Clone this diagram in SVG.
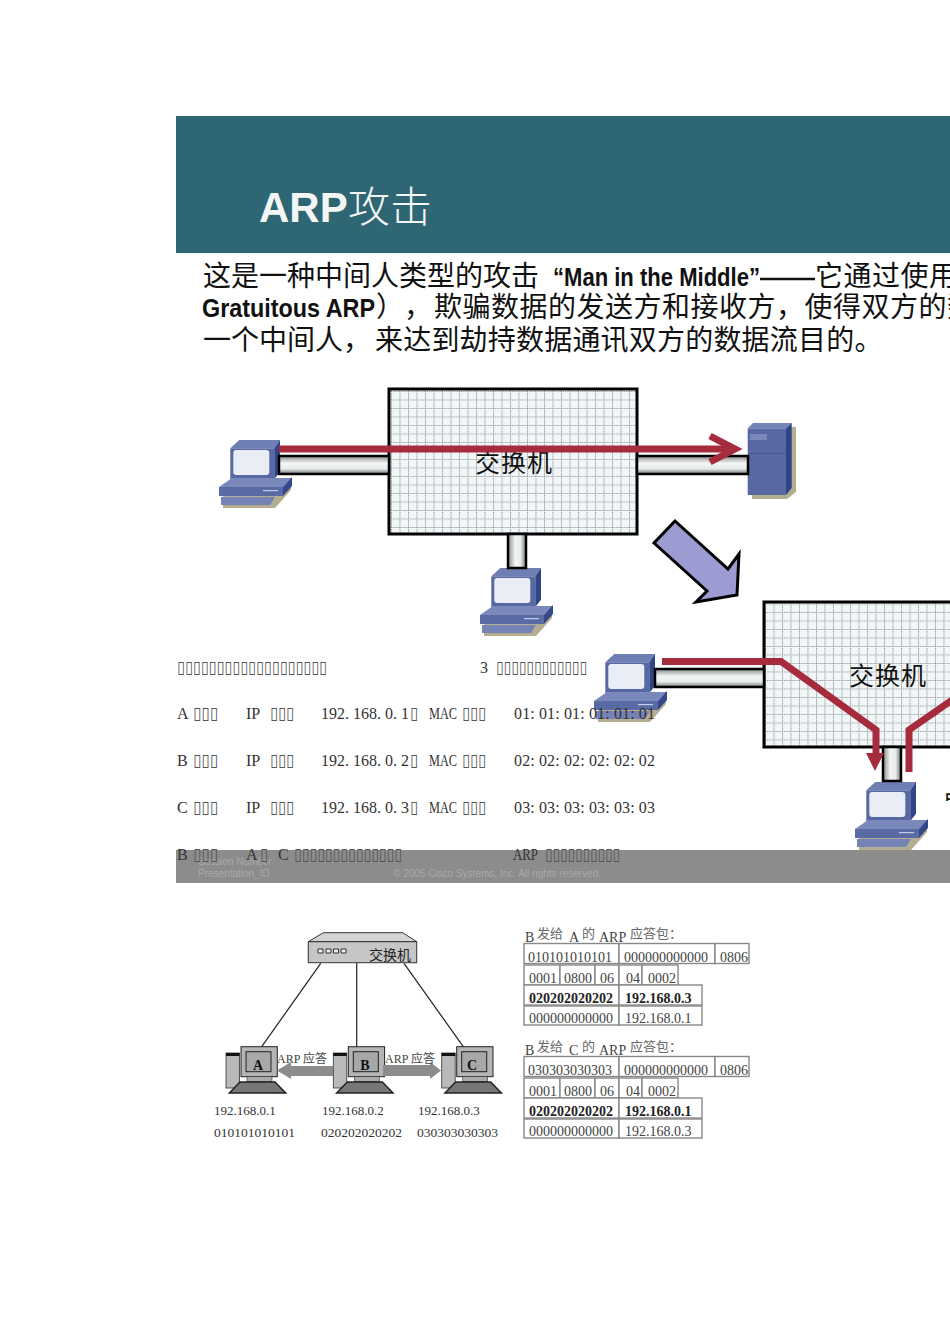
<svg xmlns="http://www.w3.org/2000/svg" width="950" height="1344" viewBox="0 0 950 1344">
<style>
.cjk{font-family:"Noto Sans CJK SC",sans-serif}
.body{font-family:"Noto Sans CJK SC",sans-serif;font-size:28px;fill:#111}
.bold{font-family:"Liberation Sans Narrow","Liberation Sans",sans-serif;font-weight:bold;font-size:26px;fill:#111}
.sw{fill:url(#grid);stroke:#000;stroke-width:3}
.swl{font-family:"Noto Sans CJK SC",sans-serif;font-size:25px;fill:#111}
.barh{fill:url(#gh);stroke:#000;stroke-width:2.5}
.barv{fill:url(#gv);stroke:#000;stroke-width:2.5}
.red{fill:none;stroke:#a62b3d;stroke-width:7}
.dt{font-family:"Liberation Serif",serif;font-size:16px;fill:#333}
.tf{font-family:"DejaVu Sans",sans-serif;font-size:17px;fill:#555;opacity:.99}
.ft{font-family:"Liberation Sans",sans-serif;font-size:10px;fill:#a9a9a9}
.wire{stroke:#222;stroke-width:1.2;fill:none}
.ga{fill:#8c8c8c}
.cell{fill:#fff;stroke:#888;stroke-width:1.4}
.tt{font-family:"Liberation Serif",serif;font-size:14px;fill:#444}
.tb{font-family:"Liberation Serif",serif;font-size:14px;font-weight:bold;fill:#222}
.lb{font-family:"Liberation Serif",serif;font-size:14px;fill:#444}
.lc{font-family:"Noto Sans CJK SC",sans-serif;font-size:13px;fill:#666}
.ip{font-family:"Liberation Serif",serif;font-size:13px;fill:#333}
.mac{font-family:"Liberation Serif",serif;font-size:13.5px;fill:#333}
.let{font-family:"Liberation Serif",serif;font-size:14px;font-weight:bold;fill:#111;text-anchor:middle}
.sm{font-size:12px}
</style>
<defs>
<pattern id="grid" width="8.5" height="8.5" patternUnits="userSpaceOnUse">
<rect width="8.5" height="8.5" fill="#f1f7f8"/>
<path d="M0 .5H8.500M.5 0V8.500" stroke="#888" stroke-width="1" stroke-dasharray="1 1" fill="none"/>
</pattern>
<linearGradient id="gh" x1="0" y1="0" x2="0" y2="1"><stop offset="0" stop-color="#888"/><stop offset=".4" stop-color="#f4f6f6"/><stop offset=".7" stop-color="#e8ecec"/><stop offset="1" stop-color="#777"/></linearGradient>
<linearGradient id="gv" x1="0" y1="0" x2="1" y2="0"><stop offset="0" stop-color="#888"/><stop offset=".4" stop-color="#f4f6f6"/><stop offset=".7" stop-color="#e8ecec"/><stop offset="1" stop-color="#777"/></linearGradient>
<g id="pc">
<path d="M4 68H56L72 50V42L60 56H4Z" fill="#b5ad90"/>
<path d="M11.300 8.300L20.300 0H61L55.300 8.300Z" fill="#6f7fb4"/>
<rect x="11.300" y="8.300" width="44" height="31" fill="#5768a3"/>
<path d="M55.300 8.300L61 0V31.700L55.300 39Z" fill="#2f4585"/>
<rect x="14.300" y="10" width="36" height="25" rx="3" fill="#e9edf5"/>
<path d="M0 47L13 38H73L64 47Z" fill="#7b88bb"/>
<rect x="0" y="47" width="64" height="9" fill="#5a6aa5"/>
<path d="M64 47L73 37V46L64 56Z" fill="#34488a"/>
<rect x="44" y="50" width="15" height="1.200" fill="#c5cde6"/>
<path d="M2 57H56L51 65H2Z" fill="#7482b6"/>
</g>
<g id="dpc">
<rect x="226" y="1053" width="13.500" height="35" fill="#b9b9b9" stroke="#333" stroke-width=".8"/>
<rect x="226" y="1053" width="13.500" height="3" fill="#111"/>
<rect x="241" y="1046.700" width="36.300" height="30" fill="#b5b5b5" stroke="#222" stroke-width="1"/>
<rect x="246" y="1051.700" width="25" height="20" fill="#a8a8a8" stroke="#222" stroke-width="1"/>
<rect x="247" y="1076.700" width="25" height="5" fill="#aaa" stroke="#333" stroke-width=".6"/>
<path d="M229.300 1093L240 1082H275L285.700 1093Z" fill="#777" stroke="#222" stroke-width="1.500"/>
</g>
</defs>
<rect width="950" height="1344" fill="#fff"/>

<g id="banner">
<rect x="176" y="116" width="774" height="137" fill="#2f6674"/>
<text x="259" y="222" font-family="Liberation Sans,sans-serif" font-weight="bold" font-size="42" fill="#f4f6f6">ARP</text>
<text x="348" y="222" class="cjk" font-size="42" font-weight="300" fill="#f4f6f6">攻击</text>
</g>

<g id="intro">
<text x="203" y="286" class="body">这是一种中间人类型的攻击</text>
<text x="553" y="286" class="bold" textLength="207" lengthAdjust="spacingAndGlyphs">“Man in the Middle”</text>
<path d="M760 279H815" stroke="#111" stroke-width="2.500"/>
<text x="815" y="286" class="body" letter-spacing=".5">它通过使用</text>
<text x="202" y="317" class="bold" textLength="173" lengthAdjust="spacingAndGlyphs">Gratuitous ARP</text>
<text x="376" y="317" class="body">）</text>
<text x="404" y="317" class="body">，</text>
<text x="434" y="317" class="body" letter-spacing=".5">欺骗数据的发送方和接收方，使得双方的数</text>
<text x="203" y="350" class="body">一个中间人，</text>
<text x="375" y="350" class="body" letter-spacing=".2">来达到劫持数据通讯双方的数据流目的。</text>
</g>

<g id="switch1">
<rect x="389" y="389" width="248" height="145" class="sw"/>
<text x="475" y="472" class="swl" textLength="77">交换机</text>
</g>
<g id="pc1"><use href="#pc" x="219" y="440"/></g>
<g id="server">
<path d="M752 499H787L796 492V427H790V490H752Z" fill="#b5ad90"/>
<path d="M747.700 428.300L753 423H791.700L786 428.300Z" fill="#7484b8"/>
<rect x="747.700" y="428.300" width="38.300" height="66.700" fill="#5768a3"/>
<path d="M786 428.300L791.700 423V488L786 495Z" fill="#2f4585"/>
<rect x="750" y="434" width="17" height="6" fill="#7b88bb"/>
<path d="M748 453.500H786" stroke="#47588f" stroke-width="1"/>
</g>
<g id="pc2"><use href="#pc" x="480" y="568"/></g>

<g id="connectors">
<rect x="279" y="456" width="110" height="18" class="barh"/>
<rect x="637" y="456" width="111" height="18" class="barh"/>
<rect x="508" y="534" width="18" height="34" class="barv"/>
<path d="M279 449H735" class="red"/>
<path d="M710 436L735 449L710 462" class="red"/>
</g>

<g id="big-arrow">
<path d="M675 521L654 543L707 591L696 602L737 595L739 554L728 569Z" fill="#9c9cd2" stroke="#000" stroke-width="3"/>
</g>

<g id="pc3"><use href="#pc" x="594" y="654"/></g>
<g id="switch2">
<rect x="764" y="602" width="200" height="145" class="sw"/>
<text x="849" y="685" class="swl" textLength="77">交换机</text>
</g>
<g id="pc4"><use href="#pc" x="855" y="782"/></g>
<g id="connectors2">
<rect x="655" y="669" width="109" height="18" class="barh"/>
<rect x="883" y="747" width="18" height="34" class="barv"/>
<path d="M662 661.500H781L876 730V756" class="red"/>
<path d="M866 753H884L875 771Z" fill="#a62b3d"/>
<path d="M955 698L909 730V772" class="red"/>
</g>
<text id="cut-label" x="945" y="803" class="cjk" font-size="14" font-weight="bold" fill="#111">中</text>

<g id="footer">
<rect x="176" y="850" width="774" height="33" fill="#8c8c8c"/>
<text x="198" y="865" class="ft">Session Number</text>
<text x="198" y="877" class="ft">Presentation_ID</text>
<text x="393" y="877" class="ft">© 2005 Cisco Systems, Inc. All rights reserved.</text>
</g>

<g id="data-text">
<text x="177" y="673" class="tf" textLength="150" lengthAdjust="spacingAndGlyphs">▯▯▯▯▯▯▯▯▯▯▯▯▯▯▯▯▯▯▯</text>
<text x="480" y="673" class="dt">3</text>
<text x="496" y="673" class="tf" textLength="91" lengthAdjust="spacingAndGlyphs">▯▯▯▯▯▯▯▯▯▯▯▯</text>

<text x="177" y="719" class="dt">A</text><text x="193" y="719" class="tf" textLength="25" lengthAdjust="spacingAndGlyphs">▯▯▯</text>
<text x="246" y="719" class="dt">IP</text><text x="270" y="719" class="tf" textLength="24" lengthAdjust="spacingAndGlyphs">▯▯▯</text>
<text x="321" y="719" class="dt">192. 168. 0. 1</text><text x="410" y="719" class="tf" textLength="8" lengthAdjust="spacingAndGlyphs">▯</text>
<text x="429" y="719" class="dt" textLength="28" lengthAdjust="spacingAndGlyphs">MAC</text><text x="462" y="719" class="tf" textLength="24" lengthAdjust="spacingAndGlyphs">▯▯▯</text>
<text x="514" y="719" class="dt" textLength="141">01: 01: 01: 01: 01: 01</text>

<text x="177" y="766" class="dt">B</text><text x="193" y="766" class="tf" textLength="25" lengthAdjust="spacingAndGlyphs">▯▯▯</text>
<text x="246" y="766" class="dt">IP</text><text x="270" y="766" class="tf" textLength="24" lengthAdjust="spacingAndGlyphs">▯▯▯</text>
<text x="321" y="766" class="dt">192. 168. 0. 2</text><text x="410" y="766" class="tf" textLength="8" lengthAdjust="spacingAndGlyphs">▯</text>
<text x="429" y="766" class="dt" textLength="28" lengthAdjust="spacingAndGlyphs">MAC</text><text x="462" y="766" class="tf" textLength="24" lengthAdjust="spacingAndGlyphs">▯▯▯</text>
<text x="514" y="766" class="dt" textLength="141">02: 02: 02: 02: 02: 02</text>

<text x="177" y="813" class="dt">C</text><text x="193" y="813" class="tf" textLength="25" lengthAdjust="spacingAndGlyphs">▯▯▯</text>
<text x="246" y="813" class="dt">IP</text><text x="270" y="813" class="tf" textLength="24" lengthAdjust="spacingAndGlyphs">▯▯▯</text>
<text x="321" y="813" class="dt">192. 168. 0. 3</text><text x="410" y="813" class="tf" textLength="8" lengthAdjust="spacingAndGlyphs">▯</text>
<text x="429" y="813" class="dt" textLength="28" lengthAdjust="spacingAndGlyphs">MAC</text><text x="462" y="813" class="tf" textLength="24" lengthAdjust="spacingAndGlyphs">▯▯▯</text>
<text x="514" y="813" class="dt" textLength="141">03: 03: 03: 03: 03: 03</text>

<text x="177" y="860" class="dt">B</text><text x="193" y="860" class="tf" textLength="25" lengthAdjust="spacingAndGlyphs">▯▯▯</text>
<text x="246" y="860" class="dt">A</text><text x="260" y="860" class="tf" textLength="8" lengthAdjust="spacingAndGlyphs">▯</text>
<text x="278" y="860" class="dt">C</text><text x="294" y="860" class="tf" textLength="108" lengthAdjust="spacingAndGlyphs">▯▯▯▯▯▯▯▯▯▯▯▯▯▯</text>
<text x="513" y="860" class="dt" textLength="25" lengthAdjust="spacingAndGlyphs">ARP</text><text x="545" y="860" class="tf" textLength="75" lengthAdjust="spacingAndGlyphs">▯▯▯▯▯▯▯▯▯▯</text>
</g>

<g id="wires">
<path d="M320.700 963.300L261.700 1046.700" class="wire"/>
<path d="M356.700 962.700V1046.700" class="wire"/>
<path d="M404 963.300L463.300 1046.700" class="wire"/>
</g>
<g id="hub">
<path d="M323.300 932.700H402.700L416.700 941.700H308.300Z" fill="#d4d4d4" stroke="#333" stroke-width="1"/>
<rect x="308.300" y="941.700" width="108.400" height="21" fill="#c6c6c6" stroke="#333" stroke-width="1"/>
<path d="M318 949h5v4h-5zM326 949h5v4h-5zM333.500 949h5v4h-5zM341 949h5v4h-5z" fill="#eee" stroke="#333" stroke-width="1"/>
<text x="369" y="960" class="cjk" font-size="14" fill="#222">交换机</text>
</g>
<g id="hostA"><use href="#dpc"/><text x="258" y="1070" class="let">A</text></g>
<g id="hostB"><use href="#dpc" x="107.300"/><text x="365" y="1070" class="let">B</text></g>
<g id="hostC"><use href="#dpc" x="215.700"/><text x="472" y="1070" class="let">C</text></g>
<g id="arp-arrows">
<path d="M277 1070.500L291 1062V1066H333V1076H291V1079Z" class="ga"/>
<path d="M441 1070.500L430 1062V1065H383V1076H430V1079Z" class="ga"/>
<text x="277" y="1063" class="lb sm">ARP <tspan class="cjk sm">应答</tspan></text>
<text x="385" y="1063" class="lb sm">ARP <tspan class="cjk sm">应答</tspan></text>
</g>
<g id="host-labels">
<text x="214" y="1115" class="ip">192.168.0.1</text>
<text x="322" y="1115" class="ip">192.168.0.2</text>
<text x="418" y="1115" class="ip">192.168.0.3</text>
<text x="214" y="1137" class="mac">010101010101</text>
<text x="321" y="1137" class="mac">020202020202</text>
<text x="417" y="1137" class="mac">030303030303</text>
</g>

<g id="packet-a">
<text x="525" y="942" class="lb">B</text><text x="537" y="938" class="lc">发给</text><text x="569" y="942" class="lb">A</text><text x="582" y="938" class="lc">的</text><text x="599" y="942" class="lb">ARP</text><text x="630" y="938" class="lc">应答包：</text>
<rect x="524" y="943.500" width="95" height="20" class="cell"/><rect x="619" y="943.500" width="96" height="20" class="cell"/><rect x="715" y="943.500" width="34" height="20" class="cell"/>
<rect x="524" y="965" width="36" height="20" class="cell"/><rect x="560" y="965" width="35" height="20" class="cell"/><rect x="595" y="965" width="24" height="20" class="cell"/><rect x="619" y="965" width="23" height="20" class="cell"/><rect x="642" y="965" width="36" height="20" class="cell"/>
<rect x="524" y="985" width="95" height="20" class="cell"/><rect x="619" y="985" width="83" height="20" class="cell"/>
<rect x="524" y="1006" width="95" height="19" class="cell"/><rect x="619" y="1006" width="83" height="19" class="cell"/>
<text x="528" y="962" class="tt">010101010101</text><text x="624" y="962" class="tt">000000000000</text><text x="720" y="962" class="tt">0806</text>
<text x="529" y="983" class="tt">0001</text><text x="564" y="983" class="tt">0800</text><text x="600" y="983" class="tt">06</text><text x="626" y="983" class="tt">04</text><text x="648" y="983" class="tt">0002</text>
<text x="529" y="1003" class="tb">020202020202</text><text x="625" y="1003" class="tb">192.168.0.3</text>
<text x="529" y="1023" class="tt">000000000000</text><text x="625" y="1023" class="tt">192.168.0.1</text>
</g>
<g id="packet-c" transform="translate(0 113)">
<text x="525" y="942" class="lb">B</text><text x="537" y="938" class="lc">发给</text><text x="569" y="942" class="lb">C</text><text x="582" y="938" class="lc">的</text><text x="599" y="942" class="lb">ARP</text><text x="630" y="938" class="lc">应答包：</text>
<rect x="524" y="943.500" width="95" height="20" class="cell"/><rect x="619" y="943.500" width="96" height="20" class="cell"/><rect x="715" y="943.500" width="34" height="20" class="cell"/>
<rect x="524" y="965" width="36" height="20" class="cell"/><rect x="560" y="965" width="35" height="20" class="cell"/><rect x="595" y="965" width="24" height="20" class="cell"/><rect x="619" y="965" width="23" height="20" class="cell"/><rect x="642" y="965" width="36" height="20" class="cell"/>
<rect x="524" y="985" width="95" height="20" class="cell"/><rect x="619" y="985" width="83" height="20" class="cell"/>
<rect x="524" y="1006" width="95" height="19" class="cell"/><rect x="619" y="1006" width="83" height="19" class="cell"/>
<text x="528" y="962" class="tt">030303030303</text><text x="624" y="962" class="tt">000000000000</text><text x="720" y="962" class="tt">0806</text>
<text x="529" y="983" class="tt">0001</text><text x="564" y="983" class="tt">0800</text><text x="600" y="983" class="tt">06</text><text x="626" y="983" class="tt">04</text><text x="648" y="983" class="tt">0002</text>
<text x="529" y="1003" class="tb">020202020202</text><text x="625" y="1003" class="tb">192.168.0.1</text>
<text x="529" y="1023" class="tt">000000000000</text><text x="625" y="1023" class="tt">192.168.0.3</text>
</g>
</svg>
